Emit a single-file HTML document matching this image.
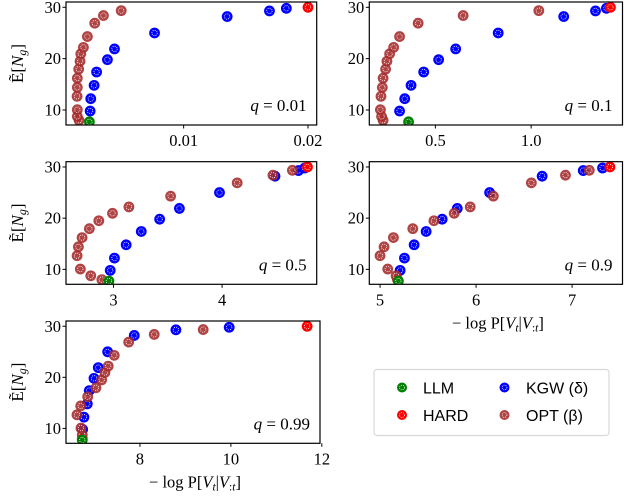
<!DOCTYPE html>
<html><head><meta charset="utf-8"><style>
html,body{margin:0;padding:0;background:#fff;}
svg{display:block;}
text{font-family:"Liberation Serif",serif;fill:#000;}
.leg{font-family:"Liberation Sans",sans-serif;font-size:16px;}
</style></head><body>
<svg id="chart" width="624" height="504" viewBox="0 0 624 504" xmlns="http://www.w3.org/2000/svg"></svg>
<script>
// shared y values
const kgwY = [9.8,12.2,14.8,17.4,19.8,21.9,25.0,28.2,29.3,29.8];
const optY = [8.0,8.75,10.06,12.66,14.4,16.2,17.95,19.5,20.95,22.2,24.3,26.9,28.4,29.35];
const llmY = [7.7];
const hardY = [30.0];
// panel q labels
const qLabels = ["q = 0.01","q = 0.1","q = 0.5","q = 0.9","q = 0.99"];
// x values per panel
const kgwX1 = [0.00248,0.00253,0.0028,0.0030,0.00387,0.00444,0.00766,0.0135,0.0169,0.01826];
const optX1 = [0.00159,0.00145,0.00145,0.00143,0.00145,0.00145,0.00156,0.00167,0.00173,0.00194,0.00226,0.00285,0.00355,0.00498];
const llmX1 = [0.00242]; const hardX1 = [0.0200];
const kgwX2 = [0.313,0.34,0.373,0.439,0.517,0.606,0.828,1.17,1.336,1.393];
const optX2 = [0.227,0.219,0.213,0.216,0.223,0.227,0.24,0.247,0.261,0.282,0.313,0.41,0.645,1.04];
const llmX2 = [0.36]; const hardX2 = [1.414];
const kgwX3 = [2.970,3.009,3.117,3.256,3.425,3.607,3.976,4.487,4.703,4.761];
const optX3 = [2.893,2.791,2.695,2.665,2.677,2.711,2.778,2.865,2.991,3.142,3.526,4.139,4.468,4.647];
const llmX3 = [2.958]; const hardX3 = [4.786];
const kgwX4 = [5.209,5.254,5.355,5.48,5.647,5.804,6.141,6.688,7.116,7.317];
const optX4 = [5.181,5.167,5.08,5.0,5.042,5.139,5.341,5.561,5.772,5.939,6.18,6.576,6.931,7.179];
const llmX4 = [5.191]; const hardX4 = [7.394];
const kgwX5 = [6.74,6.769,6.842,6.886,6.989,7.084,7.29,7.875,8.791,9.963];
const optX5 = [6.732,6.732,6.703,6.615,6.697,6.851,7.033,7.158,7.231,7.303,7.435,7.752,8.314,9.391];
const llmX5 = [6.732]; const hardX5 = [11.677];
// ticks
const yTicks = [10,20,30];
const xTicks1 = [0.01,0.02]; const xTickLabels1 = ["0.01","0.02"];
const xTicks2 = [0.5,1.0]; const xTickLabels2 = ["0.5","1.0"];
const xTicks3 = [3,4]; const xTickLabels3 = ["3","4"];
const xTicks4 = [5,6,7]; const xTickLabels4 = ["5","6","7"];
const xTicks5 = [8,10,12]; const xTickLabels5 = ["8","10","12"];

const NS = "http://www.w3.org/2000/svg";
const svg = document.getElementById('chart');
function mk(tag, attrs, parent){
  const e = document.createElementNS(NS, tag);
  for (const k in attrs) e.setAttribute(k, attrs[k]);
  (parent||svg).appendChild(e);
  return e;
}
const panels = [
  {l:66,r:316.7,t:2,b:125,x0:0.00054,x1:0.0207,kgw:kgwX1,opt:optX1,llm:llmX1,hard:hardX1,xt:xTicks1,xl:xTickLabels1,ylab:true,xlab:false},
  {l:369.3,r:622.5,t:2,b:125,x0:0.155,x1:1.477,kgw:kgwX2,opt:optX2,llm:llmX2,hard:hardX2,xt:xTicks2,xl:xTickLabels2,ylab:false,xlab:false},
  {l:66,r:316.7,t:161.7,b:284.3,x0:2.563,x1:4.871,kgw:kgwX3,opt:optX3,llm:llmX3,hard:hardX3,xt:xTicks3,xl:xTickLabels3,ylab:true,xlab:false},
  {l:369.3,r:622.5,t:161.7,b:284.3,x0:4.888,x1:7.525,kgw:kgwX4,opt:optX4,llm:llmX4,hard:hardX4,xt:xTicks4,xl:xTickLabels4,ylab:false,xlab:true},
  {l:66,r:320,t:321,b:443.3,x0:6.374,x1:11.96,kgw:kgwX5,opt:optX5,llm:llmX5,hard:hardX5,xt:xTicks5,xl:xTickLabels5,ylab:true,xlab:true}
];
const Y0 = 7.08, Y1 = 31.03;
function marker(g, cx, cy, color, op, name){
  const c = mk('g', {}, g);
  
  
  mk('circle', {cx:cx, cy:cy, r:5.4, fill:color, 'fill-opacity':op}, c);
  mk('circle', {cx:cx, cy:cy, r:2.7, fill:'none', stroke:'#fff', 'stroke-width':0.8, 'stroke-dasharray':'1 1.1'}, c);
}
panels.forEach((p, i) => {
  const g = mk('g', {});
  
  
  const sx = v => p.l + (v - p.x0) / (p.x1 - p.x0) * (p.r - p.l);
  const sy = v => p.b - (v - Y0) / (Y1 - Y0) * (p.b - p.t);
  const clip = 'clip' + i;
  const cp = mk('clipPath', {id: clip}, g);
  mk('rect', {x:p.l, y:p.t, width:p.r-p.l, height:p.b-p.t}, cp);
  const pts = mk('g', {'clip-path':'url(#' + clip + ')'}, g);
  p.kgw.forEach((x, j) => marker(pts, sx(x), sy(kgwY[j]), '#0000ff', 1, 'kgw-point'));
  p.opt.forEach((x, j) => marker(pts, sx(x), sy(optY[j]), '#a52a2a', 0.88, 'opt-point'));
  p.llm.forEach((x, j) => marker(pts, sx(x), sy(llmY[j]), '#008000', 1, 'llm-point'));
  p.hard.forEach((x, j) => marker(pts, sx(x), sy(hardY[j]), '#ff0000', 1, 'hard-point'));
  const frame = mk('rect', {x:p.l, y:p.t, width:p.r-p.l, height:p.b-p.t, fill:'none', stroke:'#000', 'stroke-width':1.2}, g);
  
  
  yTicks.forEach(v => {
    const y = sy(v);
    mk('line', {x1:p.l-3.5, x2:p.l, y1:y, y2:y, stroke:'#000', 'stroke-width':1}, g);
    const t = mk('text', {x:p.l-5, y:y+5.5, 'text-anchor':'end', 'font-size':16.5}, g);
    
    
    t.textContent = v;
  });
  p.xt.forEach((v, j) => {
    const x = sx(v);
    mk('line', {x1:x, x2:x, y1:p.b, y2:p.b+3.5, stroke:'#000', 'stroke-width':1}, g);
    const t = mk('text', {x:x, y:p.b+21, 'text-anchor':'middle', 'font-size':16.5}, g);
    
    
    t.textContent = p.xl[j];
  });
  const q = mk('text', {x:p.r-10, y:p.b-14, 'text-anchor':'end', 'font-size':17}, g);
  
  
  const parts = qLabels[i].split(' = ');
  const qi = mk('tspan', {'font-style':'italic'}, q); qi.textContent = parts[0];
  const qr = mk('tspan', {}, q); qr.textContent = ' = ' + parts[1];
  if (p.ylab) {
    const cy = (p.t + p.b) / 2;
    const t = mk('text', {x:0, y:0, transform:'translate(23,' + cy + ') rotate(-90)', 'text-anchor':'middle', 'font-size':17}, g);
    
    
    const a = mk('tspan', {}, t); a.textContent = 'Ẽ[';
    const b = mk('tspan', {'font-style':'italic'}, t); b.textContent = 'N';
    const c = mk('tspan', {'font-style':'italic', 'font-size':12, dy:3}, t); c.textContent = 'g';
    const d = mk('tspan', {dy:-3}, t); d.textContent = ']';
  }
  if (p.xlab) {
    const t = mk('text', {x:(p.l+p.r)/2 + 2, y:p.b+44, 'text-anchor':'middle', 'font-size':16.5}, g);
    
    
    const a = mk('tspan', {}, t); a.textContent = '− log P[';
    const b = mk('tspan', {'font-style':'italic'}, t); b.textContent = 'V';
    const c = mk('tspan', {'font-style':'italic', 'font-size':11.5, dy:3}, t); c.textContent = 't';
    const d = mk('tspan', {dy:-3}, t); d.textContent = '|';
    const e = mk('tspan', {'font-style':'italic'}, t); e.textContent = 'V';
    const f = mk('tspan', {'font-size':11.5, dy:3}, t); f.textContent = ':';
    const f2 = mk('tspan', {'font-style':'italic', 'font-size':11.5}, t); f2.textContent = 't';
    const h = mk('tspan', {dy:-3}, t); h.textContent = ']';
  }
});
// legend
const lg = mk('g', {});


mk('rect', {x:374, y:369.5, width:235, height:66, rx:3, fill:'#fff', stroke:'#d9d9d9', 'stroke-width':1.2}, lg);
const legNames = ['LLM','HARD','KGW (δ)','OPT (β)'];
const legColors = ['#008000','#ff0000','#0000ff','#a52a2a'];
const legPos = [[402,387.5,423],[402,415,423],[504.5,387.5,526],[504.5,415,526]];
legNames.forEach((n, i) => {
  const e = mk('g', {}, lg);
  
  
  mk('circle', {cx:legPos[i][0], cy:legPos[i][1], r:5, fill:legColors[i], 'fill-opacity': i===3?0.88:1}, e);
  mk('circle', {cx:legPos[i][0], cy:legPos[i][1], r:2.4, fill:'none', stroke:'#fff', 'stroke-width':0.7, 'stroke-dasharray':'1 1'}, e);
  const t = mk('text', {x:legPos[i][2], y:legPos[i][1]+6, class:'leg'}, e);
  t.textContent = n;
});
</script>
</body></html>
